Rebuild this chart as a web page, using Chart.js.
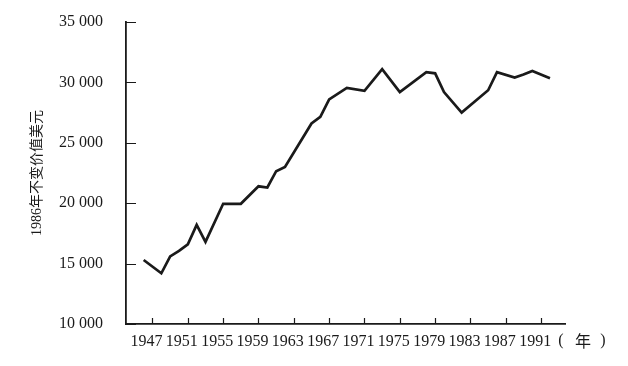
<!DOCTYPE html>
<html>
<head>
<meta charset="utf-8">
<script src="https://cdn.jsdelivr.net/npm/chart.js@4/dist/chart.umd.min.js"></script>
<style>
    body { margin: 0; background: #fff; }
    .wrap { width: 628px; height: 366px; }
</style>
</head>
<body>
<div class="wrap"><canvas id="income"></canvas></div>
<script>
// 1986 constant dollars
const years = [1946, 1948, 1949, 1950, 1951, 1952, 1953, 1955, 1957, 1959, 1960, 1961, 1962,
    1965, 1966, 1967, 1969, 1971, 1973, 1975, 1978, 1979, 1980, 1982, 1985, 1986, 1988, 1989, 1990, 1992];
const values = [15300, 14200, 15600, 16050, 16600, 18200, 16800, 19950, 19950, 21400, 21300, 22650, 23000,
    26600, 27150, 28600, 29550, 29300, 31100, 29200, 30850, 30750, 29200, 27500, 29350, 30850, 30400, 30650, 30950, 30350];

const xTickYears = [1947, 1951, 1955, 1959, 1963, 1967, 1971, 1975, 1979, 1983, 1987, 1991];
const yTickValues = [10000, 15000, 20000, 25000, 30000, 35000];
const yTickLabels = ['10 000', '15 000', '20 000', '25 000', '30 000', '35 000'];

const serif = "'Liberation Serif', 'Times New Roman', 'Noto Sans CJK SC', serif";
const ink = '#1a1a1a';

// tick marks point inward, and the unit "(年)" sits after the last year label
const axisExtras = {
    id: 'axisExtras',
    afterDraw(chart) {
        const { ctx, scales } = chart;
        const x = scales.x, y = scales.y;
        ctx.save();
        ctx.strokeStyle = ink;
        ctx.lineWidth = 1.2;
        ctx.beginPath();
        xTickYears.forEach(v => {
            const px = Math.round(x.getPixelForValue(v)) + 0.5;
            ctx.moveTo(px, x.top);
            ctx.lineTo(px, x.top - 6);
        });
        yTickValues.forEach(v => {
            const py = Math.round(y.getPixelForValue(v)) + 0.5;
            ctx.moveTo(y.right, py);
            ctx.lineTo(y.right + 10, py);
        });
        ctx.stroke();

        ctx.fillStyle = ink;
        ctx.textBaseline = 'middle';
        ctx.textAlign = 'center';
        const ly = x.top + 17;
        ctx.font = '16px ' + serif;
        ctx.fillText('(', x.right - 4, ly);
        ctx.fillText(')', x.right + 38, ly);
        ctx.font = "16px 'Noto Sans CJK SC', serif";
        ctx.fillText('年', x.right + 18, ly);
        ctx.restore();
    }
};

const ctx = document.getElementById('income').getContext('2d');
new Chart(ctx, {
    type: 'line',
    data: {
        datasets: [{
            data: years.map((y, i) => ({ x: y, y: values[i] })),
            borderColor: ink,
            borderWidth: 2.7,
            pointRadius: 0,
            tension: 0,
            fill: false
        }]
    },
    options: {
        responsive: true,
        maintainAspectRatio: false,
        animation: false,
        layout: { padding: { top: 22, right: 63, left: 0, bottom: 0 } },
        plugins: {
            legend: { display: false },
            tooltip: { enabled: false }
        },
        scales: {
            x: {
                type: 'linear',
                min: 1944,
                max: 1993.7,
                afterBuildTicks: s => { s.ticks = xTickYears.map(v => ({ value: v })); },
                afterFit: s => { s.height = 42; s.paddingLeft = 0; s.paddingRight = 0; },
                border: { display: true, color: ink, width: 1.8 },
                grid: { display: false },
                ticks: {
                    color: ink,
                    font: { family: serif, size: 16 },
                    padding: 0,
                    labelOffset: -6,
                    maxRotation: 0,
                    autoSkip: false,
                    callback: v => String(v)
                }
            },
            y: {
                min: 10000,
                max: 35000,
                afterBuildTicks: s => { s.ticks = yTickValues.map(v => ({ value: v })); },
                afterFit: s => { s.width = 126; s.paddingTop = 0; s.paddingBottom = 0; },
                border: { display: true, color: ink, width: 1.8 },
                grid: { display: false },
                ticks: {
                    color: ink,
                    font: { family: serif, size: 16 },
                    padding: 15,
                    autoSkip: false,
                    callback: v => yTickLabels[yTickValues.indexOf(v)]
                },
                title: {
                    display: true,
                    text: '1986年不变价值美元',
                    color: ink,
                    font: { family: serif, size: 14 },
                    padding: { top: 29, bottom: 0 }
                }
            }
        }
    },
    plugins: [axisExtras]
});
</script>
</body>
</html>
